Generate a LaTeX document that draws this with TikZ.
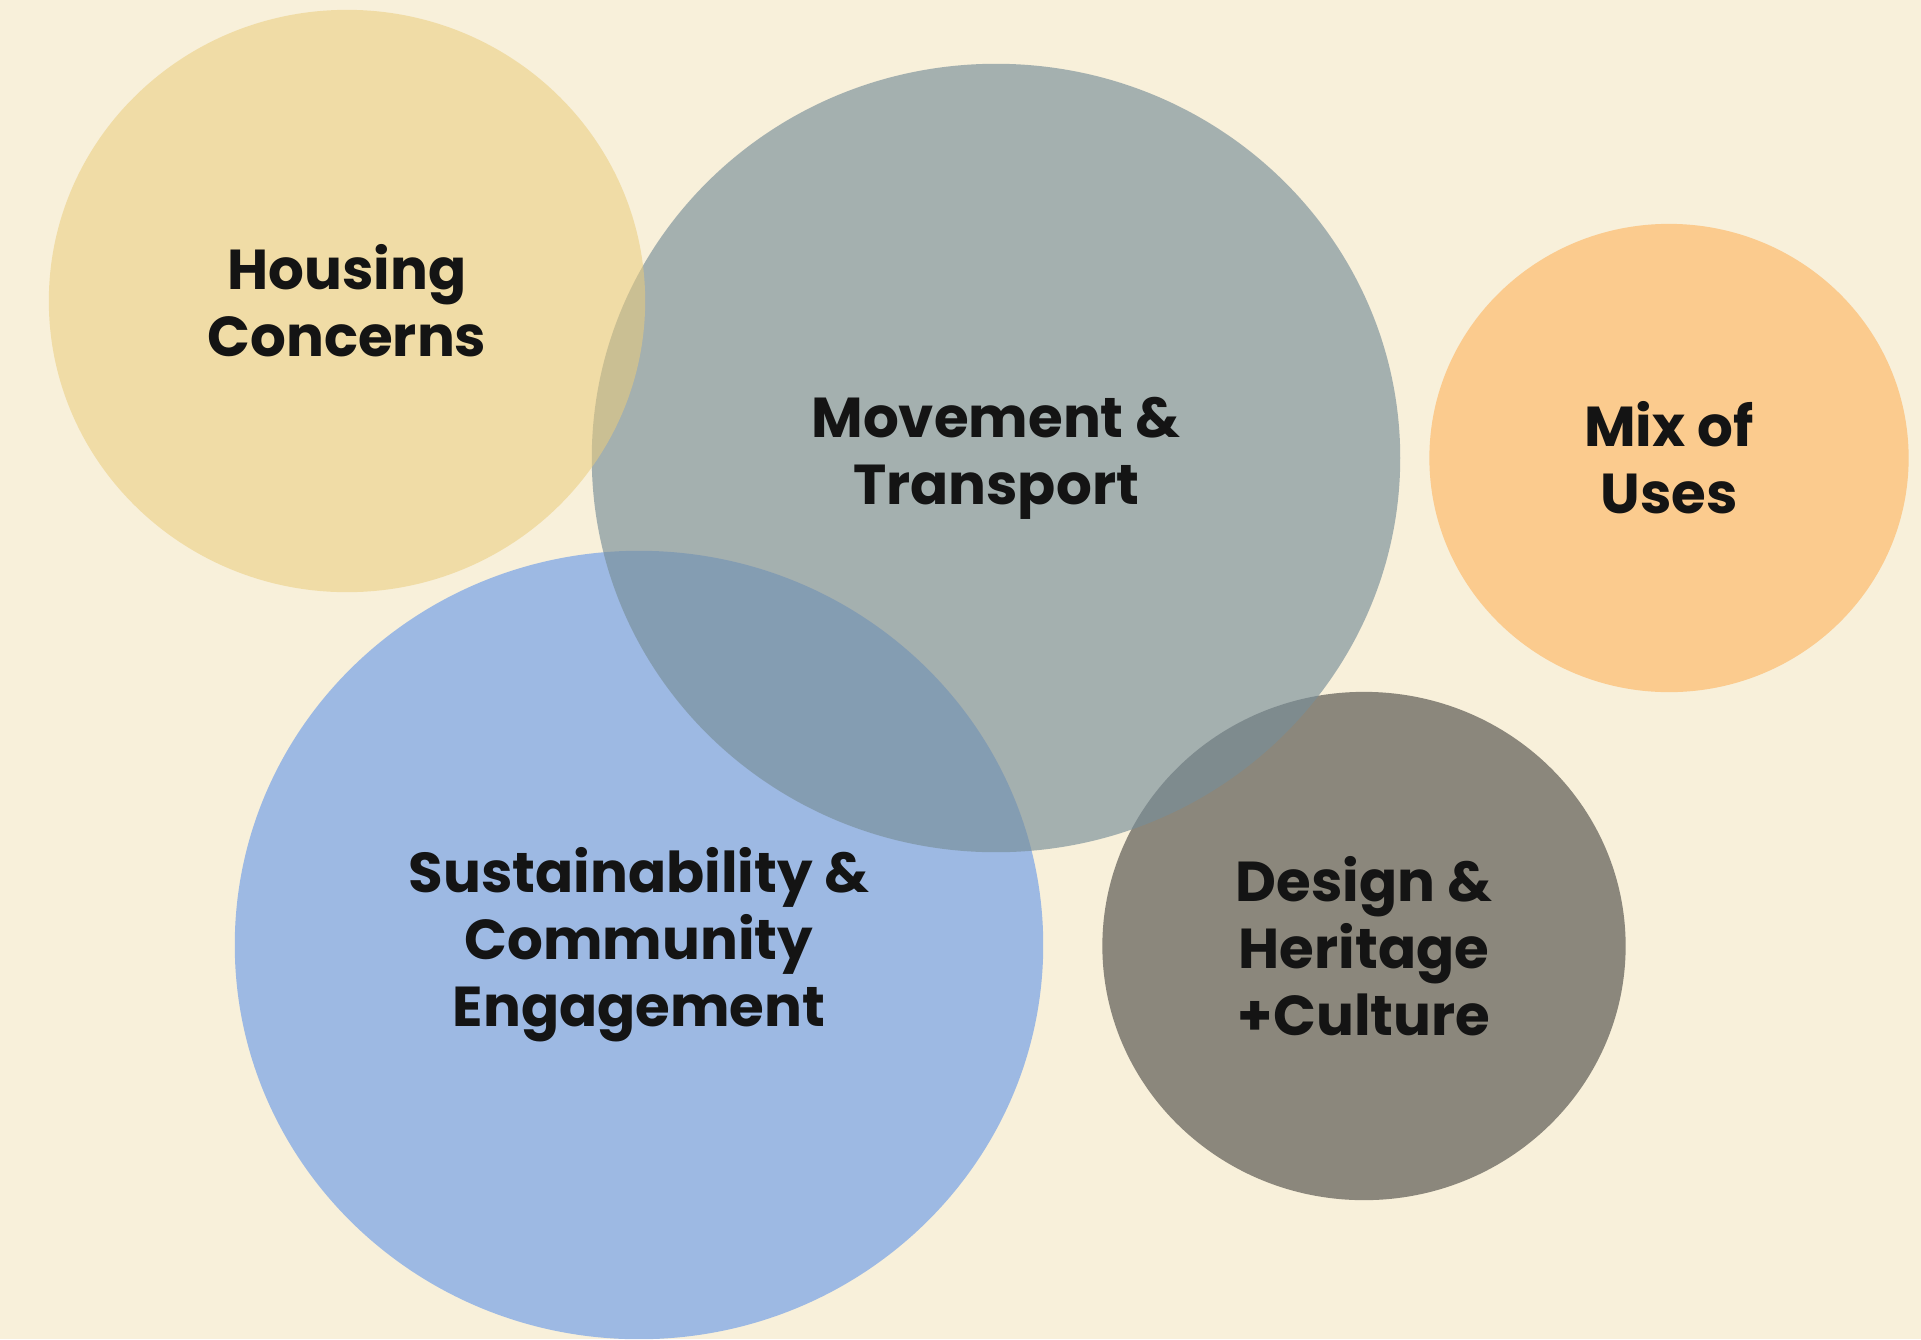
\documentclass[tikz,border=0pt]{standalone}
\usepackage{fontspec}
\setmainfont{Poppins}
\usepackage{xcolor}
\usetikzlibrary{shapes.geometric}
\definecolor{bgcream}{HTML}{F8F0DA}
\definecolor{housecol}{RGB}{235,204,124}
\definecolor{movecol}{RGB}{120,142,153}
\definecolor{mixcol}{HTML}{FBCB8E}
\definecolor{sustcol}{HTML}{9DB9E3}
\definecolor{designcol}{HTML}{8B877C}
\tikzset{bubble/.style={ellipse, inner sep=0pt, align=center, text opacity=1,
         font=\fontsize{16}{19}\selectfont\bfseries, text=black!92}}

\begin{document}
\begin{tikzpicture}[x=0.01cm, y=-0.01cm]
    \useasboundingbox (0,0) rectangle (1921,1339);
    \fill[bgcream] (0,0) rectangle (1921,1339);
    \clip (0,0) rectangle (1921,1339);

    % Bubbles, back to front
    \node[bubble, fill=designcol, minimum width=5.23cm, minimum height=5.08cm] (design) at (1364,946) {Design \&\\Heritage\\+Culture};
    \node[bubble, fill=sustcol, minimum width=8.08cm, minimum height=7.88cm] (sust) at (639,945) {Sustainability \&\\Community\\Engagement};
    \node[bubble, fill=movecol, fill opacity=0.65, minimum width=8.08cm, minimum height=7.88cm] (move) at (996,458) {Movement \&\\Transport};
    \node[bubble, fill=housecol, fill opacity=0.55, minimum width=5.96cm, minimum height=5.82cm] (house) at (347,301) {Housing\\Concerns};
    \node[bubble, fill=mixcol, minimum width=4.79cm, minimum height=4.68cm] (mix) at (1669,458) {Mix of\\Uses};
\end{tikzpicture}
\end{document}
